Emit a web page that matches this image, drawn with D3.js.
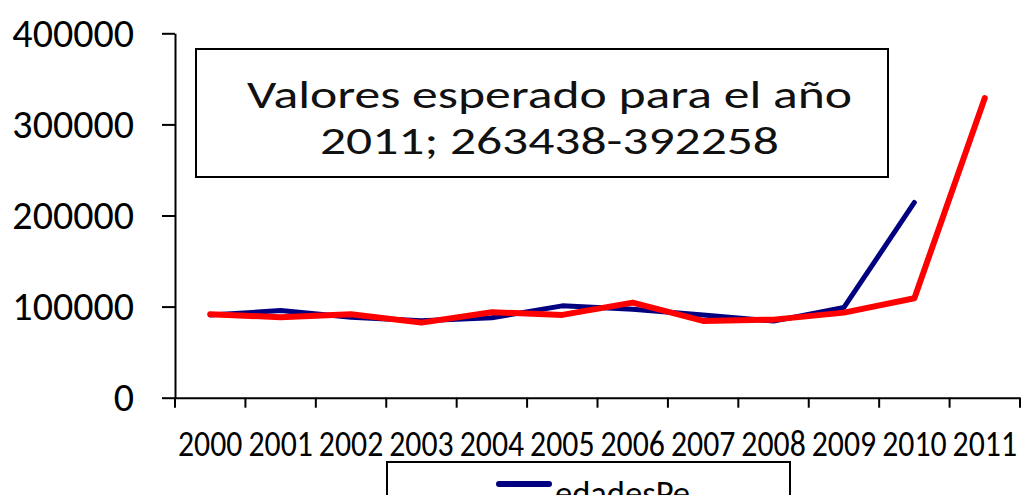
<!DOCTYPE html>
<html>
<head>
<meta charset="utf-8">
<script src="https://cdn.jsdelivr.net/npm/d3@7"></script>
<style>
body{margin:0;background:#fff;}
svg{display:block;font-family:Carlito,Calibri,Lato,"Open Sans",sans-serif;}
</style>
</head>
<body>
<svg width="1025" height="495"></svg>
<script>
// datos
var years = ["2000","2001","2002","2003","2004","2005","2006","2007","2008","2009","2010","2011"];
var edadesPe = [90700, 95600, 88400, 84600, 87800, 100800, 97100, 90900, 84100, 99100, 214300];
var esperado = [91600, 88400, 91600, 82400, 93800, 90900, 104400, 84300, 85700, 93400, 109200, 329000];
var yTicks = [0, 100000, 200000, 300000, 400000];
var nota = ["Valores esperado para el año", "2011; 263438-392258"];
var leyenda = ["edadesPe"];

var color = {azul: "#000080", rojo: "#ff0000", eje: "#000"};

var svg = d3.select("svg");

var x = d3.scaleBand().domain(years).range([175, 1020]);
var y = d3.scaleLinear().domain([0, 400000]).range([397.7, 33.3]);

// eje y
var gy = svg.append("g")
    .attr("transform", "translate(175,0)")
    .call(d3.axisLeft(y).tickValues(yTicks).tickSizeInner(13).tickSizeOuter(0)
        .tickPadding(28).tickFormat(d3.format("d")))
    .attr("font-family", null)
    .attr("font-size", null);
gy.select(".domain").attr("stroke", color.eje).attr("stroke-width", 2);
gy.selectAll(".tick line").attr("stroke", color.eje).attr("stroke-width", 2);
gy.selectAll(".tick text")
    .attr("fill", "#000")
    .attr("font-size", 40)
    .attr("dy", "0.33em");

// eje x (marcas entre categorias)
var gx = svg.append("g")
    .attr("transform", "translate(0," + y(0) + ")")
    .call(d3.axisBottom(x).tickSize(0).tickSizeOuter(0).tickPadding(0))
    .attr("font-family", null)
    .attr("font-size", null);
gx.select(".domain").attr("stroke", color.eje).attr("stroke-width", 2);
gx.selectAll(".tick text")
    .attr("fill", "#000")
    .attr("font-size", 37)
    .attr("y", 58.5)
    .attr("dy", 0)
    .attr("textLength", x.bandwidth() - 6)
    .attr("lengthAdjust", "spacingAndGlyphs");

var bordes = x.domain().map(function(d){ return x(d); }).concat([x.range()[1]]);
gx.selectAll(".borde")
    .data(bordes)
    .enter().append("line")
    .attr("class", "borde")
    .attr("x1", function(d){ return d; })
    .attr("x2", function(d){ return d; })
    .attr("y1", 0)
    .attr("y2", 10)
    .attr("stroke", color.eje)
    .attr("stroke-width", 2);

// lineas
var linea = d3.line()
    .x(function(d, i){ return x(years[i]) + x.bandwidth() / 2; })
    .y(function(d){ return y(d); });

svg.append("path")
    .datum(edadesPe)
    .attr("d", linea)
    .attr("fill", "none")
    .attr("stroke", color.azul)
    .attr("stroke-width", 5)
    .attr("stroke-linejoin", "round")
    .attr("stroke-linecap", "round");

svg.append("path")
    .datum(esperado)
    .attr("d", linea)
    .attr("fill", "none")
    .attr("stroke", color.rojo)
    .attr("stroke-width", 6)
    .attr("stroke-linejoin", "round")
    .attr("stroke-linecap", "round");

// cuadro de texto
svg.append("rect")
    .attr("x", 196)
    .attr("y", 49)
    .attr("width", 692)
    .attr("height", 128)
    .attr("fill", "#fff")
    .attr("stroke", "#000")
    .attr("stroke-width", 2);

var anchos = [605, 459];
svg.selectAll(".nota")
    .data(nota)
    .enter().append("text")
    .attr("class", "nota")
    .attr("x", 549.5)
    .attr("y", function(d, i){ return 108.3 + i * 45.7; })
    .attr("text-anchor", "middle")
    .attr("font-size", 39)
    .attr("fill", "#111")
    .attr("textLength", function(d, i){ return anchos[i]; })
    .attr("lengthAdjust", "spacingAndGlyphs")
    .text(function(d){ return d; });

// leyenda (cortada abajo)
svg.append("rect")
    .attr("x", 387)
    .attr("y", 462)
    .attr("width", 403)
    .attr("height", 90)
    .attr("fill", "#fff")
    .attr("stroke", "#000")
    .attr("stroke-width", 2);

svg.append("line")
    .attr("x1", 499)
    .attr("x2", 549)
    .attr("y1", 484)
    .attr("y2", 484)
    .attr("stroke", color.azul)
    .attr("stroke-width", 6)
    .attr("stroke-linecap", "round");

svg.append("text")
    .attr("x", 555)
    .attr("y", 505)
    .attr("font-size", 34)
    .attr("fill", "#000")
    .attr("textLength", 135)
    .attr("lengthAdjust", "spacingAndGlyphs")
    .text(leyenda[0]);
</script>
</body>
</html>
